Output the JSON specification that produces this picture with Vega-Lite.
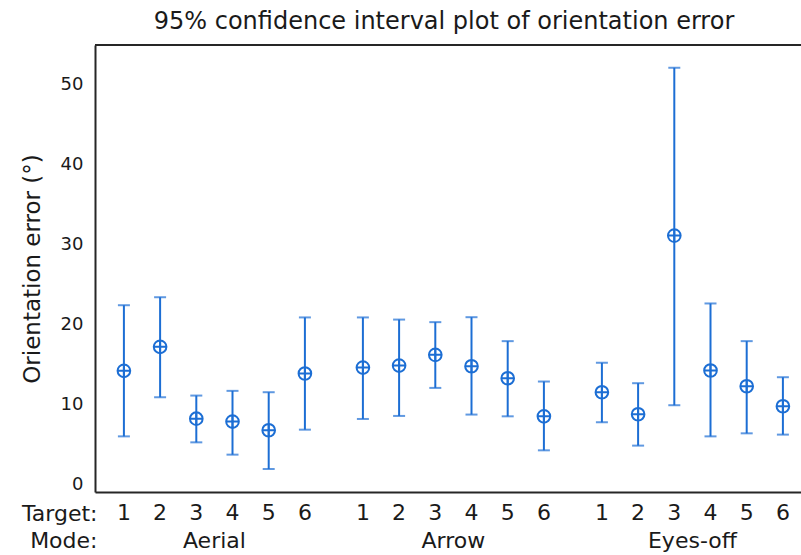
{
  "$schema": "https://vega.github.io/schema/vega-lite/v6.json",
  "autosize": {"type": "none"},
  "width": 706,
  "height": 447,
  "padding": {"left": 95, "top": 45, "right": 0, "bottom": 63},
  "background": "white",
  "config": {
    "view": {"stroke": null},
    "font": "DejaVu Sans"
  },
  "title": {
    "text": "95% confidence interval plot of orientation error",
    "font": "DejaVu Sans",
    "fontSize": 24,
    "fontWeight": "normal",
    "color": "#1a1a1a",
    "anchor": "middle",
    "offset": 10,
    "dx": -4
  },
  "data": {
    "values": [
      {"Mode": "Aerial", "Target": 1, "mean": 14.18, "lower": 5.97, "upper": 22.4},
      {"Mode": "Aerial", "Target": 2, "mean": 17.19, "lower": 10.87, "upper": 23.4},
      {"Mode": "Aerial", "Target": 3, "mean": 8.19, "lower": 5.22, "upper": 11.08},
      {"Mode": "Aerial", "Target": 4, "mean": 7.82, "lower": 3.68, "upper": 11.67},
      {"Mode": "Aerial", "Target": 5, "mean": 6.73, "lower": 1.88, "upper": 11.5},
      {"Mode": "Aerial", "Target": 6, "mean": 13.84, "lower": 6.81, "upper": 20.87},
      {"Mode": "Arrow", "Target": 1, "mean": 14.59, "lower": 8.15, "upper": 20.87},
      {"Mode": "Arrow", "Target": 2, "mean": 14.84, "lower": 8.53, "upper": 20.6},
      {"Mode": "Arrow", "Target": 3, "mean": 16.18, "lower": 12.04, "upper": 20.28},
      {"Mode": "Arrow", "Target": 4, "mean": 14.76, "lower": 8.7, "upper": 20.9},
      {"Mode": "Arrow", "Target": 5, "mean": 13.25, "lower": 8.48, "upper": 17.9},
      {"Mode": "Arrow", "Target": 6, "mean": 8.48, "lower": 4.22, "upper": 12.84},
      {"Mode": "Eyes-off", "Target": 1, "mean": 11.5, "lower": 7.73, "upper": 15.18},
      {"Mode": "Eyes-off", "Target": 2, "mean": 8.74, "lower": 4.81, "upper": 12.63},
      {"Mode": "Eyes-off", "Target": 3, "mean": 31.12, "lower": 9.87, "upper": 52.15},
      {"Mode": "Eyes-off", "Target": 4, "mean": 14.22, "lower": 5.97, "upper": 22.62},
      {"Mode": "Eyes-off", "Target": 5, "mean": 12.25, "lower": 6.35, "upper": 17.9},
      {"Mode": "Eyes-off", "Target": 6, "mean": 9.74, "lower": 6.19, "upper": 13.38}
    ]
  },
  "layer": [
    {
      "mark": {"type": "rule", "color": "#262626", "strokeWidth": 2},
      "encoding": {"y": {"datum": 55}}
    },
    {
      "mark": {"type": "rule", "color": "#1c6ed4", "strokeWidth": 2},
      "encoding": {
        "x": {
          "field": "Mode", "type": "nominal",
          "scale": {"paddingInner": 0.0912, "paddingOuter": 0.0226, "align": 1},
          "axis": {
            "title": ["Target:", "Mode:"],
            "titleFont": "DejaVu Sans",
            "titleFontSize": 22,
            "titleFontWeight": "normal",
            "titleColor": "#1a1a1a",
            "titleAlign": "right",
            "titleAnchor": "start",
            "titleBaseline": "alphabetic",
            "titleLineHeight": 27,
            "titleX": 2,
            "titleY": 28,
            "labelFont": "DejaVu Sans",
            "labelFontSize": 22,
            "labelColor": "#1a1a1a",
            "labelAngle": 0,
            "labelBaseline": "alphabetic",
            "labelPadding": 55,
            "ticks": false,
            "tickSize": 0,
            "domain": true,
            "domainColor": "#262626",
            "domainWidth": 2,
            "grid": false
          }
        },
        "xOffset": {"field": "Target", "type": "ordinal", "scale": {"paddingInner": 0, "paddingOuter": 0}},
        "y": {
          "field": "lower", "type": "quantitative",
          "scale": {"domain": [-1, 55], "nice": false, "zero": false},
          "axis": {
            "title": "Orientation error (°)",
            "titleFont": "DejaVu Sans",
            "titleFontSize": 23,
            "titleFontWeight": "normal",
            "titleColor": "#1a1a1a",
            "titlePadding": 16,
            "values": [0, 10, 20, 30, 40, 50],
            "labelFont": "DejaVu Sans",
            "labelFontSize": 18,
            "labelColor": "#1a1a1a",
            "labelPadding": 12,
            "ticks": false,
            "tickSize": 0,
            "grid": false,
            "domain": true,
            "domainColor": "#262626",
            "domainWidth": 2
          }
        },
        "y2": {"field": "upper"}
      }
    },
    {
      "mark": {"type": "tick", "color": "#1c6ed4", "orient": "horizontal", "size": 12, "thickness": 2},
      "encoding": {
        "x": {"field": "Mode", "type": "nominal"},
        "xOffset": {"field": "Target", "type": "ordinal"},
        "y": {"field": "lower", "type": "quantitative"}
      }
    },
    {
      "mark": {"type": "tick", "color": "#1c6ed4", "orient": "horizontal", "size": 12, "thickness": 2},
      "encoding": {
        "x": {"field": "Mode", "type": "nominal"},
        "xOffset": {"field": "Target", "type": "ordinal"},
        "y": {"field": "upper", "type": "quantitative"}
      }
    },
    {
      "mark": {
        "type": "point",
        "shape": "M1,0A1,1 0 1,1 -1,0A1,1 0 1,1 1,0Z M-1,0L1,0 M0,-1L0,1",
        "size": 160,
        "filled": false,
        "color": "#1c6ed4",
        "strokeWidth": 2,
        "opacity": 1
      },
      "encoding": {
        "x": {"field": "Mode", "type": "nominal"},
        "xOffset": {"field": "Target", "type": "ordinal"},
        "y": {"field": "mean", "type": "quantitative"}
      }
    },
    {
      "mark": {
        "type": "text",
        "y": {"expr": "height + 28"},
        "baseline": "alphabetic",
        "align": "center",
        "font": "DejaVu Sans",
        "fontSize": 22,
        "color": "#1a1a1a"
      },
      "encoding": {
        "x": {"field": "Mode", "type": "nominal"},
        "xOffset": {"field": "Target", "type": "ordinal"},
        "text": {"field": "Target", "type": "ordinal"}
      }
    }
  ]
}
